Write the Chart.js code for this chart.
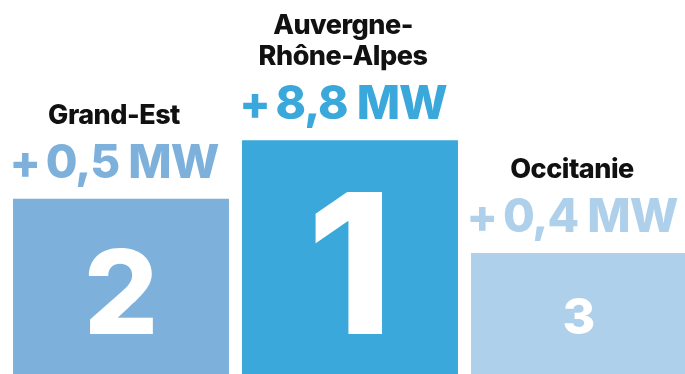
<!DOCTYPE html>
<html>
<head>
<meta charset="utf-8">
<script src="https://cdn.jsdelivr.net/npm/chart.js@4.4.1/dist/chart.umd.min.js"></script>
<style>
    html, body { margin: 0; padding: 0; background: #fff; overflow: hidden; }
    #wrap { position: relative; width: 700px; height: 374px; }
</style>
</head>
<body>
<div id="wrap"><canvas id="podium"></canvas></div>
<script>
// podium order: left, centre, right
const regions = [['Grand-Est'], ['Auvergne-', 'Rhône-Alpes'], ['Occitanie']];
const gainsMW = [0.5, 8.8, 0.4];
const ranks = [2, 1, 3];
const podiumLevels = [3, 4, 2.07];

const barColors = ['#7db1db', '#3aa8da', '#aed0ea'];
const rankFontSizes = [117, 195, 50];
const FONT = 'Inter, "Noto Sans", sans-serif';

const podiumLabels = {
    id: 'podiumLabels',
    afterDatasetsDraw(chart) {
        const ctx = chart.ctx;
        const bars = chart.getDatasetMeta(0).data;
        ctx.save();
        ctx.textAlign = 'center';
        ctx.textBaseline = 'alphabetic';
        bars.forEach((bar, i) => {
            const cx = bar.x - 7;

            // rank inside the step
            ctx.fillStyle = '#ffffff';
            ctx.font = `800 ${rankFontSizes[i]}px ${FONT}`;
            ctx.fillText(String(ranks[i]), bar.x, bar.base - 40);

            // gain above the step
            let y = bar.y - 21;
            ctx.fillStyle = barColors[i];
            ctx.font = `800 46px ${FONT}`;
            ctx.letterSpacing = '-1px';
            ctx.fillText('+\u2009' + gainsMW[i].toLocaleString('fr-FR') + ' MW', cx, y);

            // region name (may be on two lines)
            y -= 54;
            ctx.fillStyle = '#111111';
            ctx.font = `800 27px ${FONT}`;
            ctx.letterSpacing = '-0.5px';
            const lines = regions[i];
            for (let k = lines.length - 1; k >= 0; k--) {
                ctx.fillText(lines[k], cx, y);
                y -= 31;
            }
            ctx.letterSpacing = '0px';
        });
        ctx.restore();
    }
};

new Chart(document.getElementById('podium'), {
    type: 'bar',
    data: {
        labels: regions.map(r => r.join(' ')),
        datasets: [{
            data: podiumLevels,
            backgroundColor: barColors,
            borderWidth: 0,
            barPercentage: 0.943,
            categoryPercentage: 1
        }]
    },
    options: {
        responsive: true,
        maintainAspectRatio: false,
        animation: false,
        layout: { padding: { left: 6.5, right: 6.5, top: 0, bottom: 0 } },
        plugins: {
            legend: { display: false },
            tooltip: { enabled: false }
        },
        scales: {
            x: { display: false },
            y: { display: false, min: 0, max: 6.4 }
        }
    },
    plugins: [podiumLabels]
});
</script>
</body>
</html>
